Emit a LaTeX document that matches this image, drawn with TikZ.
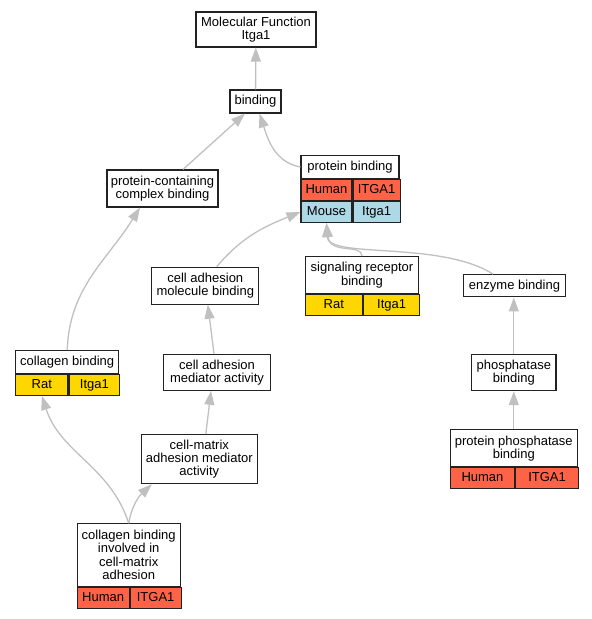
\documentclass[tikz,border=0pt]{standalone}
\usepackage{fontspec}
\setmainfont{Liberation Sans}
\usetikzlibrary{positioning}
\usetikzlibrary{arrows.meta}

\definecolor{humanred}{HTML}{FF6347}
\definecolor{mouseblue}{HTML}{ADD8E6}
\definecolor{ratgold}{HTML}{FFD700}
\definecolor{edgegray}{HTML}{C0C0C0}
\definecolor{boxline}{HTML}{222222}

\tikzset{
  term/.style={draw=boxline, line width=1.1bp, fill=white, inner sep=0pt, align=center,
    font=\fontsize{13bp}{13.3bp}\selectfont},
  single/.style={text height=9.4bp, text depth=2.8bp},
  cell/.style={term, single, minimum height=21bp},
  edge/.style={draw=edgegray, line width=1.3bp, -{Triangle[length=14bp,width=10bp]}}
}

\begin{document}
\begin{tikzpicture}[x=1bp,y=1bp]
		\useasboundingbox (0,0) rectangle (592,619);
		 % Define the terms
		\node[term, minimum width=120bp, minimum height=35bp] (mf) at (256,589.5) {Molecular Function\\Itga1};
		\node[term, single, minimum width=51bp, minimum height=23bp] (bind) at (255.5,517.5) {binding};
		\node[term, minimum width=111bp, minimum height=37bp] (pcb) at (162.5,430.5) {protein-containing\\complex binding};
		\node[term, single, minimum width=98bp, minimum height=22.6bp] (pbh) at (350,452) {protein binding};
		\node[term, minimum width=107bp, minimum height=37bp] (camb) at (205.3,333.3) {cell adhesion\\molecule binding};
		\node[term, minimum width=113.4bp, minimum height=36.6bp] (srbh) at (362,344) {signaling receptor\\binding};
		\node[term, single, minimum width=101.6bp, minimum height=22.3bp] (eb) at (514.5,333.2) {enzyme binding};
		\node[term, single, minimum width=103bp, minimum height=22.6bp] (cbh) at (67.2,257) {collagen binding};
		\node[term, minimum width=107.4bp, minimum height=36bp] (cama) at (217,246.7) {cell adhesion\\mediator activity};
		\node[term, minimum width=116bp, minimum height=49bp] (cmama) at (199.3,159.8) {cell-matrix\\adhesion mediator\\activity};
		\node[term, minimum width=102.7bp, minimum height=62.6bp] (cbih) at (128.7,64) {collagen binding\\involved in\\cell-matrix\\adhesion};
		\node[term, minimum width=84.3bp, minimum height=36.4bp] (phb) at (513.8,246.5) {phosphatase\\binding};
		\node[term, minimum width=127bp, minimum height=36.7bp] (ppbh) at (513.8,170.7) {protein phosphatase\\binding};

		 % Define the species rows
		\foreach \up/\row/\wl/\wr/\col/\lt/\rt in {pbh/pbhu/51/47/humanred/Human/ITGA1,
		    pbhu-l/pbmo/51/47/mouseblue/Mouse/Itga1, srbh/srbr/57/56.4/ratgold/Rat/Itga1,
		    cbh/cbr/52.3/50.7/ratgold/Rat/Itga1, cbih/cbihu/51.7/51/humanred/Human/ITGA1,
		    ppbh/ppbhu/64.4/62.6/humanred/Human/ITGA1}
		{
		  \node[cell, fill=\col, minimum width=\wl bp, below right=0pt and 0pt of \up.south west] (\row-l) {\lt};
		  \node[cell, fill=\col, minimum width=\wr bp, right=0pt of \row-l] (\row-r) {\rt};
		}

		 % Draw the edges
		\draw[edge] (bind) -- (mf);
		\draw[edge] ([xshift=20.5bp]pcb.north) -- ([xshift=-10.5bp]bind.south);
		\draw[edge] (pbh.west) to[out=170,in=-72] ([xshift=4bp]bind.south);
		\draw[edge] ([xshift=11.5bp]camb.north) to[out=50,in=202] (pbmo-l.west);
		\draw[edge] (srbh.north) .. controls +(0,13) and +(3.5,-32) .. (pbmo-l.south);
		\draw[edge] ([xshift=-21.5bp]eb.north) .. controls +(-53,33.7) and +(1.5,-36) .. (pbmo-l.south);
		\draw[edge] (cbh.north) to[out=88,in=238] ([xshift=-22.5bp]pcb.south);
		\draw[edge] ([xshift=-3bp]cama.north) -- ([xshift=2.5bp]camb.south);
		\draw[edge] ([xshift=6.5bp]cmama.north) -- ([xshift=-6bp]cama.south);
		\draw[edge] (cbih.north) to[out=108,in=-72] (cbr-l.south);
		\draw[edge] (cbih.north) to[out=80,in=223] ([xshift=-47.5bp]cmama.south);
		\draw[edge] (phb.north) -- (phb.north |- eb.south);
		\draw[edge] (ppbh.north) -- (phb.south);
      \end{tikzpicture}
\end{document}
